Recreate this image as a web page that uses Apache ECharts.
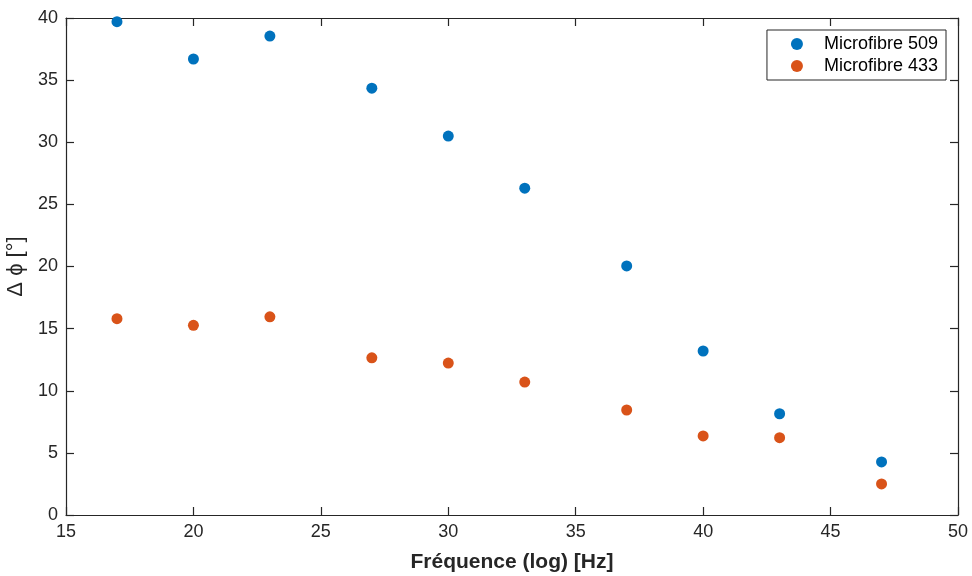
<!DOCTYPE html>
<html>
<head>
<meta charset="utf-8">
<script src="https://cdn.jsdelivr.net/npm/echarts@6/dist/echarts.min.js"></script>
<style>
  html, body { margin: 0; padding: 0; background: #fff; }
  #chart { width: 972px; height: 576px; }
</style>
</head>
<body>
<div id="chart"></div>
<script>
// fréquences (axe x)
const freq = [17, 20, 23, 27, 30, 33, 37, 40, 43, 47];
// déphasage en degrés
const fibre509 = [39.7, 36.7, 38.55, 34.35, 30.5, 26.3, 20.05, 13.2, 8.15, 4.27];
const fibre433 = [15.8, 15.27, 15.95, 12.65, 12.23, 10.7, 8.45, 6.36, 6.22, 2.5];
const names = ['Microfibre 509', 'Microfibre 433'];

const chart = echarts.init(document.getElementById('chart'));
const axisColor = '#262626';
const font = 'Helvetica, "Liberation Sans", Arial, sans-serif';

function pts(ys) {
  return freq.map((x, i) => [x, ys[i]]);
}

const baseX = {
  type: 'value', min: 15, max: 50, interval: 5,
  axisLine: { show: true, onZero: false, lineStyle: { color: axisColor, width: 1.2 } },
  axisTick: { show: true, inside: true, length: 8, lineStyle: { color: axisColor, width: 1.2 } },
  splitLine: { show: false }
};
const baseY = {
  type: 'value', min: 0, max: 40, interval: 5,
  axisLine: { show: true, onZero: false, lineStyle: { color: axisColor, width: 1.2 } },
  axisTick: { show: true, inside: true, length: 8, lineStyle: { color: axisColor, width: 1.2 } },
  splitLine: { show: false }
};

const option = {
  animation: false,
  backgroundColor: '#fff',
  grid: { left: 66, right: 14, top: 18, bottom: 61, containLabel: false, outerBoundsMode: 'none' },
  legend: {
    data: names,
    orient: 'vertical',
    right: 26, top: 30,
    itemWidth: 12, itemHeight: 12, itemGap: 4,
    padding: [5, 8, 5, 24],
    borderColor: axisColor, borderWidth: 1,
    backgroundColor: '#fff',
    textStyle: { fontFamily: font, fontSize: 18, color: '#000', padding: [0, 0, 0, 16] }
  },
  xAxis: [
    Object.assign({}, baseX, {
      position: 'bottom',
      name: 'Fréquence (log) [Hz]', nameLocation: 'middle', nameGap: 37,
      nameTextStyle: { fontFamily: font, fontSize: 21, fontWeight: 'bold', color: axisColor },
      axisLabel: { fontFamily: font, fontSize: 18, color: axisColor, margin: 8 }
    }),
    Object.assign({}, baseX, { position: 'top', axisLabel: { show: false } })
  ],
  yAxis: [
    Object.assign({}, baseY, {
      position: 'left',
      name: 'Δ ϕ [°]', nameLocation: 'middle', nameGap: 34,
      nameTextStyle: { fontFamily: font, fontSize: 22, color: axisColor },
      axisLabel: { fontFamily: font, fontSize: 18, color: axisColor, margin: 8 }
    }),
    Object.assign({}, baseY, { position: 'right', axisLabel: { show: false } })
  ],
  series: [
    {
      name: names[0], type: 'scatter', symbol: 'circle', symbolSize: 11,
      itemStyle: { color: '#0072BD', opacity: 1 }, data: pts(fibre509)
    },
    {
      name: names[1], type: 'scatter', symbol: 'circle', symbolSize: 11,
      itemStyle: { color: '#D95319', opacity: 1 }, data: pts(fibre433)
    }
  ]
};

chart.setOption(option);
</script>
</body>
</html>
